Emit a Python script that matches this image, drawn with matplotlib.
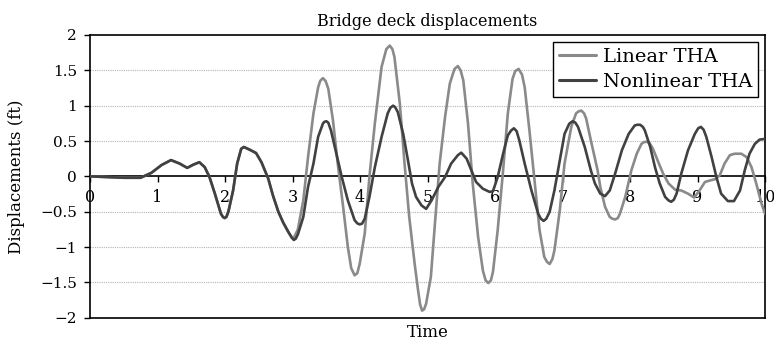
import matplotlib
matplotlib.use("Agg")
import matplotlib.pyplot as plt

# ---- data (time in s, displacement in ft) ----
t_nonlinear = [0.0, 0.25, 0.5, 0.75, 0.91, 1.06, 1.2, 1.33, 1.44, 1.53, 1.62, 1.70, 1.77,
               1.85, 1.94, 1.97, 1.995, 2.02, 2.05, 2.12, 2.18, 2.24, 2.28, 2.36, 2.46,
               2.54, 2.64, 2.71, 2.79, 2.86, 2.94, 2.99, 3.02, 3.05, 3.08, 3.16, 3.23,
               3.31, 3.38, 3.45, 3.47, 3.5, 3.53, 3.57, 3.65, 3.73, 3.82, 3.92, 3.96,
               3.995, 4.03, 4.07, 4.14, 4.22, 4.32, 4.41, 4.45, 4.49, 4.52, 4.56, 4.64,
               4.71, 4.77, 4.83, 4.91, 4.98, 5.06, 5.16, 5.26, 5.35, 5.45, 5.5, 5.58,
               5.65, 5.72, 5.82, 5.92, 5.97, 6.04, 6.12, 6.19, 6.24, 6.28, 6.32, 6.36,
               6.44, 6.54, 6.64, 6.68, 6.72, 6.76, 6.81, 6.88, 6.96, 7.03, 7.1, 7.15,
               7.19, 7.23, 7.33, 7.42, 7.48, 7.56, 7.63, 7.7, 7.78, 7.88, 7.98, 8.07,
               8.11, 8.15, 8.19, 8.22, 8.3, 8.37, 8.44, 8.52, 8.57, 8.61, 8.65, 8.69,
               8.76, 8.86, 8.96, 9.01, 9.05, 9.09, 9.13, 9.21, 9.28, 9.35, 9.45, 9.54,
               9.63, 9.7, 9.77, 9.85, 9.92, 10.0]
d_nonlinear = [0.0, -0.01, -0.02, -0.02, 0.05, 0.16, 0.23, 0.18, 0.12, 0.165, 0.2, 0.13, -0.01,
               -0.245, -0.53, -0.575, -0.59, -0.575, -0.5, -0.2, 0.18, 0.39, 0.415, 0.38, 0.33,
               0.2, -0.03, -0.27, -0.5, -0.65, -0.79, -0.87, -0.9, -0.88, -0.82, -0.575, -0.15,
               0.18, 0.56, 0.745, 0.77, 0.78, 0.76, 0.65, 0.32, -0.01, -0.34, -0.62, -0.665,
               -0.68, -0.67, -0.6, -0.29, 0.13, 0.56, 0.89, 0.97, 1.0, 0.98, 0.91, 0.6,
               0.23, -0.1, -0.29, -0.41, -0.46, -0.34, -0.15, -0.01, 0.18, 0.3, 0.335, 0.25,
               0.085, -0.08, -0.175, -0.22, -0.21, -0.01, 0.32, 0.58, 0.65, 0.68, 0.64, 0.51,
               0.18, -0.2, -0.53, -0.6, -0.63, -0.6, -0.5, -0.2, 0.23, 0.6, 0.745, 0.78,
               0.76, 0.7, 0.415, 0.085, -0.1, -0.245, -0.28, -0.2, 0.04, 0.37, 0.6, 0.72,
               0.73, 0.73, 0.7, 0.65, 0.415, 0.13, -0.1, -0.29, -0.34, -0.36, -0.33, -0.245,
               0.04, 0.37, 0.6, 0.68, 0.7, 0.66, 0.56, 0.27, -0.01, -0.245, -0.35, -0.35,
               -0.2, 0.085, 0.32, 0.46, 0.52, 0.53]

t_linear = [0.0, 0.25, 0.5, 0.75, 0.91, 1.06, 1.2, 1.33, 1.44, 1.53, 1.62, 1.70, 1.77,
            1.85, 1.94, 1.97, 1.995, 2.02, 2.05, 2.12, 2.18, 2.24, 2.28, 2.36, 2.46,
            2.54, 2.64, 2.71, 2.79, 2.86, 2.94, 2.99, 3.02, 3.08, 3.16, 3.23, 3.31,
            3.38, 3.41, 3.45, 3.49, 3.53, 3.6, 3.67, 3.75, 3.82, 3.87, 3.92, 3.96,
            3.995, 4.07, 4.14, 4.22, 4.32, 4.39, 4.44, 4.48, 4.51, 4.59, 4.66, 4.73,
            4.81, 4.86, 4.89, 4.92, 4.95, 4.98, 5.05, 5.11, 5.18, 5.26, 5.33, 5.4,
            5.45, 5.49, 5.53, 5.6, 5.67, 5.75, 5.82, 5.86, 5.9, 5.94, 5.97, 6.04,
            6.12, 6.19, 6.26, 6.30, 6.35, 6.40, 6.44, 6.51, 6.59, 6.66, 6.73, 6.77,
            6.81, 6.85, 6.88, 6.96, 7.03, 7.13, 7.2, 7.24, 7.28, 7.32, 7.35, 7.42,
            7.52, 7.56, 7.63, 7.7, 7.74, 7.78, 7.82, 7.85, 7.93, 8.02, 8.1, 8.17,
            8.21, 8.25, 8.29, 8.34, 8.42, 8.49, 8.57, 8.67, 8.76, 8.86, 8.95, 9.03,
            9.11, 9.18, 9.26, 9.33, 9.4, 9.48, 9.55, 9.65, 9.73, 9.8, 9.87, 9.95,
            10.0]
d_linear = [0.0, -0.01, -0.02, -0.02, 0.05, 0.16, 0.23, 0.18, 0.12, 0.165, 0.2, 0.13, -0.01,
            -0.245, -0.53, -0.575, -0.59, -0.575, -0.5, -0.2, 0.18, 0.39, 0.415, 0.38, 0.33,
            0.2, -0.03, -0.27, -0.5, -0.65, -0.79, -0.86, -0.87, -0.75, -0.34, 0.27, 0.89,
            1.26, 1.35, 1.39, 1.35, 1.24, 0.79, 0.18, -0.43, -1.0, -1.3, -1.4, -1.37,
            -1.24, -0.81, 0.0, 0.75, 1.55, 1.8, 1.85, 1.8, 1.69, 1.03, 0.18, -0.58,
            -1.24, -1.61, -1.81, -1.9, -1.88, -1.8, -1.42, -0.67, 0.18, 0.84, 1.31, 1.52,
            1.56, 1.5, 1.36, 0.75, -0.1, -0.86, -1.33, -1.47, -1.51, -1.47, -1.35, -0.76,
            0.085, 0.89, 1.38, 1.49, 1.52, 1.44, 1.26, 0.65, -0.1, -0.76, -1.14, -1.21,
            -1.24, -1.17, -1.05, -0.48, 0.18, 0.7, 0.89, 0.92, 0.93, 0.89, 0.82, 0.51,
            0.085, -0.15, -0.43, -0.575, -0.6, -0.61, -0.59, -0.53, -0.29, 0.085, 0.32, 0.46,
            0.485, 0.49, 0.47, 0.39, 0.2, 0.04, -0.1, -0.19, -0.2, -0.245, -0.3, -0.2,
            -0.08, -0.06, -0.04, 0.015, 0.18, 0.3, 0.32, 0.32, 0.27, 0.13, -0.1, -0.39,
            -0.53]

x_ticks = [0, 1, 2, 3, 4, 5, 6, 7, 8, 9, 10]
y_ticks = [-2, -1.5, -1, -0.5, 0, 0.5, 1, 1.5, 2]

plt.rcParams['font.family'] = ['DejaVu Serif']

fig = plt.figure(figsize=(7.74, 3.42), dpi=100)
ax = fig.add_axes([90 / 774, 1 - 317.7 / 342, 675 / 774, (317.7 - 35) / 342])

ax.plot(t_linear, d_linear, color='#8a8a8a', lw=1.9, solid_joinstyle='round',
        solid_capstyle='round', label='Linear THA', zorder=3)
ax.plot(t_nonlinear, d_nonlinear, color='#414141', lw=1.9, solid_joinstyle='round',
        solid_capstyle='round', label='Nonlinear THA', zorder=4)

ax.set_xlim(0, 10)
ax.set_ylim(-2, 2)
ax.set_yticks(y_ticks)
ax.set_yticklabels(['%g' % v if v >= 0 else '\u2212%g' % abs(v) for v in y_ticks])
ax.tick_params(axis='y', direction='out', length=4, width=1, labelsize=11, pad=5.5)
for v in y_ticks:
    if v not in (0, 2, -2):
        ax.axhline(v, color='#b4b4b4', lw=0.8, ls=(0, (1, 1)), zorder=1)

for s in ax.spines.values():
    s.set_linewidth(1.2)

# x axis drawn through zero, with the frame closed at the bottom
ax.spines['bottom'].set_position(('data', 0))
ax.spines['bottom'].set_zorder(2)
ax.set_xticks(x_ticks)
ax.set_xticklabels([str(v) for v in x_ticks])
ax.tick_params(axis='x', direction='out', length=4, width=1, labelsize=11.5, pad=5)
ax.axhline(-2, color='black', lw=1.2, clip_on=False, zorder=2)

ax.set_title('Bridge deck displacements', fontsize=11.5, pad=6.5)
fig.text(17 / 774, 1 - 176.5 / 342, 'Displacements (ft)', rotation=90,
         ha='center', va='center', fontsize=12)
ax.text(0.5, -0.024, 'Time', transform=ax.transAxes, ha='center', va='top', fontsize=12)

leg = ax.legend(loc='upper right', bbox_to_anchor=(0.990, 0.974), fontsize=14,
                frameon=True, fancybox=False, framealpha=1, edgecolor='black',
                handlelength=1.9, borderpad=0.3, labelspacing=0.35, handletextpad=0.35,
                borderaxespad=0)
leg.get_frame().set_linewidth(1.0)
for h in leg.get_lines():
    h.set_linewidth(2.2)

fig.savefig('out.png', dpi=100)
